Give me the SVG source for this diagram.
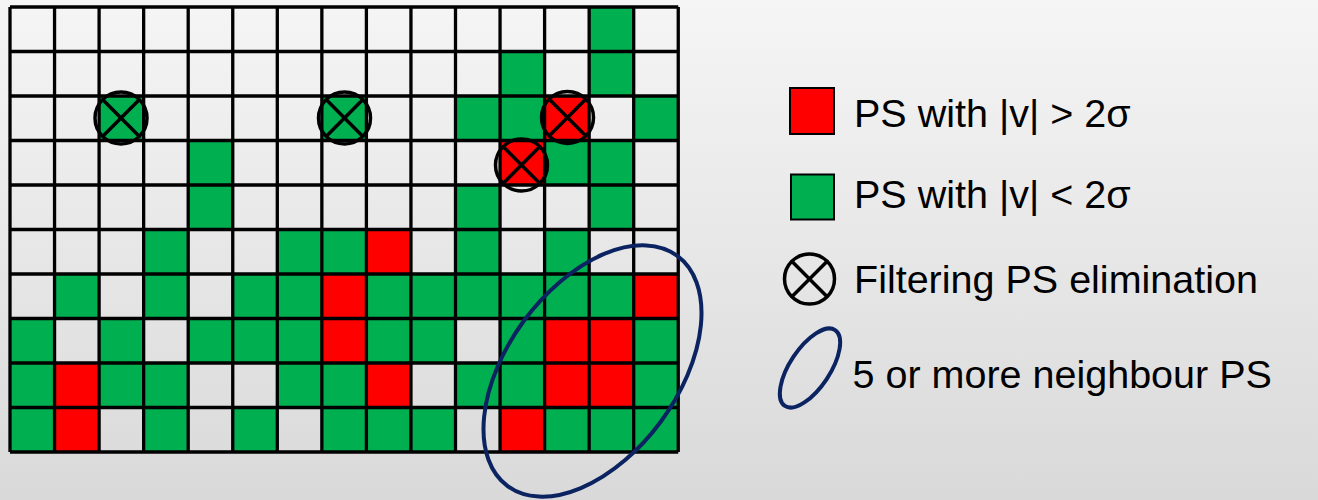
<svg xmlns="http://www.w3.org/2000/svg" width="1318" height="500" viewBox="0 0 1318 500">
<defs>
<linearGradient id="bg" x1="0" y1="0" x2="0" y2="1">
<stop offset="0" stop-color="#f5f5f5"/>
<stop offset="1" stop-color="#d9d9d9"/>
</linearGradient>
<style>
.g{fill:#00B050}
.r{fill:#FF0000}
.grid{fill:none;stroke:#000;stroke-width:3.3}
.xc{fill:none;stroke:#000;stroke-width:3.5}
.ell{fill:none;stroke:#0B2461;stroke-width:4}
.t{font-family:"Liberation Sans",Arial,sans-serif;font-size:39.5px;fill:#000}
</style>
</defs>
<rect x="0" y="0" width="1318" height="500" fill="url(#bg)"/>
<g id="cells">
<!-- row 0 -->
<rect class="g" x="589.15" y="7" width="44.55" height="44.5"/>
<!-- row 1 -->
<rect class="g" x="500.05" y="51.5" width="44.55" height="44.5"/>
<rect class="g" x="589.15" y="51.5" width="44.55" height="44.5"/>
<!-- row 2 -->
<rect class="g" x="99.1" y="96" width="44.55" height="44.5"/>
<rect class="g" x="321.85" y="96" width="44.55" height="44.5"/>
<rect class="g" x="455.5" y="96" width="44.55" height="44.5"/>
<rect class="g" x="500.05" y="96" width="44.55" height="44.5"/>
<rect class="r" x="544.6" y="96" width="44.55" height="44.5"/>
<rect class="g" x="633.7" y="96" width="44.55" height="44.5"/>
<!-- row 3 -->
<rect class="g" x="188.2" y="140.5" width="44.55" height="44.5"/>
<rect class="r" x="500.05" y="140.5" width="44.55" height="44.5"/>
<rect class="g" x="544.6" y="140.5" width="44.55" height="44.5"/>
<rect class="g" x="589.15" y="140.5" width="44.55" height="44.5"/>
<!-- row 4 -->
<rect class="g" x="188.2" y="185" width="44.55" height="44.5"/>
<rect class="g" x="455.5" y="185" width="44.55" height="44.5"/>
<rect class="g" x="589.15" y="185" width="44.55" height="44.5"/>
<!-- row 5 -->
<rect class="g" x="143.65" y="229.5" width="44.55" height="44.5"/>
<rect class="g" x="277.3" y="229.5" width="44.55" height="44.5"/>
<rect class="g" x="321.85" y="229.5" width="44.55" height="44.5"/>
<rect class="r" x="366.4" y="229.5" width="44.55" height="44.5"/>
<rect class="g" x="455.5" y="229.5" width="44.55" height="44.5"/>
<rect class="g" x="544.6" y="229.5" width="44.55" height="44.5"/>
<!-- row 6 -->
<rect class="g" x="54.55" y="274" width="44.55" height="44.5"/>
<rect class="g" x="143.65" y="274" width="44.55" height="44.5"/>
<rect class="g" x="232.75" y="274" width="44.55" height="44.5"/>
<rect class="g" x="277.3" y="274" width="44.55" height="44.5"/>
<rect class="r" x="321.85" y="274" width="44.55" height="44.5"/>
<rect class="g" x="366.4" y="274" width="44.55" height="44.5"/>
<rect class="g" x="410.95" y="274" width="44.55" height="44.5"/>
<rect class="g" x="455.5" y="274" width="44.55" height="44.5"/>
<rect class="g" x="500.05" y="274" width="44.55" height="44.5"/>
<rect class="g" x="544.6" y="274" width="44.55" height="44.5"/>
<rect class="g" x="589.15" y="274" width="44.55" height="44.5"/>
<rect class="r" x="633.7" y="274" width="44.55" height="44.5"/>
<!-- row 7 -->
<rect class="g" x="10" y="318.5" width="44.55" height="44.5"/>
<rect class="g" x="99.1" y="318.5" width="44.55" height="44.5"/>
<rect class="g" x="188.2" y="318.5" width="44.55" height="44.5"/>
<rect class="g" x="232.75" y="318.5" width="44.55" height="44.5"/>
<rect class="g" x="277.3" y="318.5" width="44.55" height="44.5"/>
<rect class="r" x="321.85" y="318.5" width="44.55" height="44.5"/>
<rect class="g" x="366.4" y="318.5" width="44.55" height="44.5"/>
<rect class="g" x="410.95" y="318.5" width="44.55" height="44.5"/>
<rect class="g" x="500.05" y="318.5" width="44.55" height="44.5"/>
<rect class="r" x="544.6" y="318.5" width="44.55" height="44.5"/>
<rect class="r" x="589.15" y="318.5" width="44.55" height="44.5"/>
<rect class="g" x="633.7" y="318.5" width="44.55" height="44.5"/>
<!-- row 8 -->
<rect class="g" x="10" y="363" width="44.55" height="44.5"/>
<rect class="r" x="54.55" y="363" width="44.55" height="44.5"/>
<rect class="g" x="99.1" y="363" width="44.55" height="44.5"/>
<rect class="g" x="143.65" y="363" width="44.55" height="44.5"/>
<rect class="g" x="277.3" y="363" width="44.55" height="44.5"/>
<rect class="g" x="321.85" y="363" width="44.55" height="44.5"/>
<rect class="r" x="366.4" y="363" width="44.55" height="44.5"/>
<rect class="g" x="455.5" y="363" width="44.55" height="44.5"/>
<rect class="g" x="500.05" y="363" width="44.55" height="44.5"/>
<rect class="r" x="544.6" y="363" width="44.55" height="44.5"/>
<rect class="r" x="589.15" y="363" width="44.55" height="44.5"/>
<rect class="g" x="633.7" y="363" width="44.55" height="44.5"/>
<!-- row 9 -->
<rect class="g" x="10" y="407.5" width="44.55" height="44.5"/>
<rect class="r" x="54.55" y="407.5" width="44.55" height="44.5"/>
<rect class="g" x="143.65" y="407.5" width="44.55" height="44.5"/>
<rect class="g" x="232.75" y="407.5" width="44.55" height="44.5"/>
<rect class="g" x="321.85" y="407.5" width="44.55" height="44.5"/>
<rect class="g" x="366.4" y="407.5" width="44.55" height="44.5"/>
<rect class="g" x="410.95" y="407.5" width="44.55" height="44.5"/>
<rect class="r" x="500.05" y="407.5" width="44.55" height="44.5"/>
<rect class="g" x="544.6" y="407.5" width="44.55" height="44.5"/>
<rect class="g" x="589.15" y="407.5" width="44.55" height="44.5"/>
<rect class="g" x="633.7" y="407.5" width="44.55" height="44.5"/>
</g>
<g id="grid">
<path class="grid" d="M10,7V452M54.55,7V452M99.1,7V452M143.65,7V452M188.2,7V452M232.75,7V452M277.3,7V452M321.85,7V452M366.4,7V452M410.95,7V452M455.5,7V452M500.05,7V452M544.6,7V452M589.15,7V452M633.7,7V452M678.25,7V452M10,7H678.25M10,51.5H678.25M10,96H678.25M10,140.5H678.25M10,185H678.25M10,229.5H678.25M10,274H678.25M10,318.5H678.25M10,363H678.25M10,407.5H678.25M10,452H678.25"/>
</g>
<g id="filters">
<g id="f1"><circle class="xc" cx="121" cy="118" r="26"/><path class="xc" d="M102.6,99.6L139.4,136.4M139.4,99.6L102.6,136.4"/></g>
<g id="f2"><circle class="xc" cx="344.5" cy="118" r="26"/><path class="xc" d="M326.1,99.6L362.9,136.4M362.9,99.6L326.1,136.4"/></g>
<g id="f3"><circle class="xc" cx="567.5" cy="117.5" r="26"/><path class="xc" d="M549.1,99.1L585.9,135.9M585.9,99.1L549.1,135.9"/></g>
<g id="f4"><circle class="xc" cx="521.5" cy="165" r="26"/><path class="xc" d="M503.1,146.6L539.9,183.4M539.9,146.6L503.1,183.4"/></g>
</g>
<g id="cluster">
<ellipse class="ell" cx="592.5" cy="371" rx="143" ry="85" transform="rotate(-53.6 592.5 371)"/>
</g>
<g id="legend">
<g id="leg-red"><rect x="790" y="88" width="44" height="46" fill="#FF0000" stroke="#000" stroke-width="2"/><text class="t" x="854" y="127">PS with |v| &gt; 2σ</text></g>
<g id="leg-green"><rect x="791" y="174.5" width="43" height="45" fill="#00B050" stroke="#000" stroke-width="2"/><text class="t" x="854" y="208">PS with |v| &lt; 2σ</text></g>
<g id="leg-filter"><circle class="xc" cx="809.5" cy="279" r="25" stroke-width="3"/><path class="xc" stroke-width="3" d="M791.8,261.3L827.2,296.7M827.2,261.3L791.8,296.7"/><text class="t" x="854" y="293">Filtering PS elimination</text></g>
<g id="leg-cluster"><ellipse class="ell" cx="810" cy="368" rx="45.5" ry="20" transform="rotate(-56.5 810 368)"/><text class="t" x="852.5" y="388">5 or more neighbour PS</text></g>
</g>
</svg>
